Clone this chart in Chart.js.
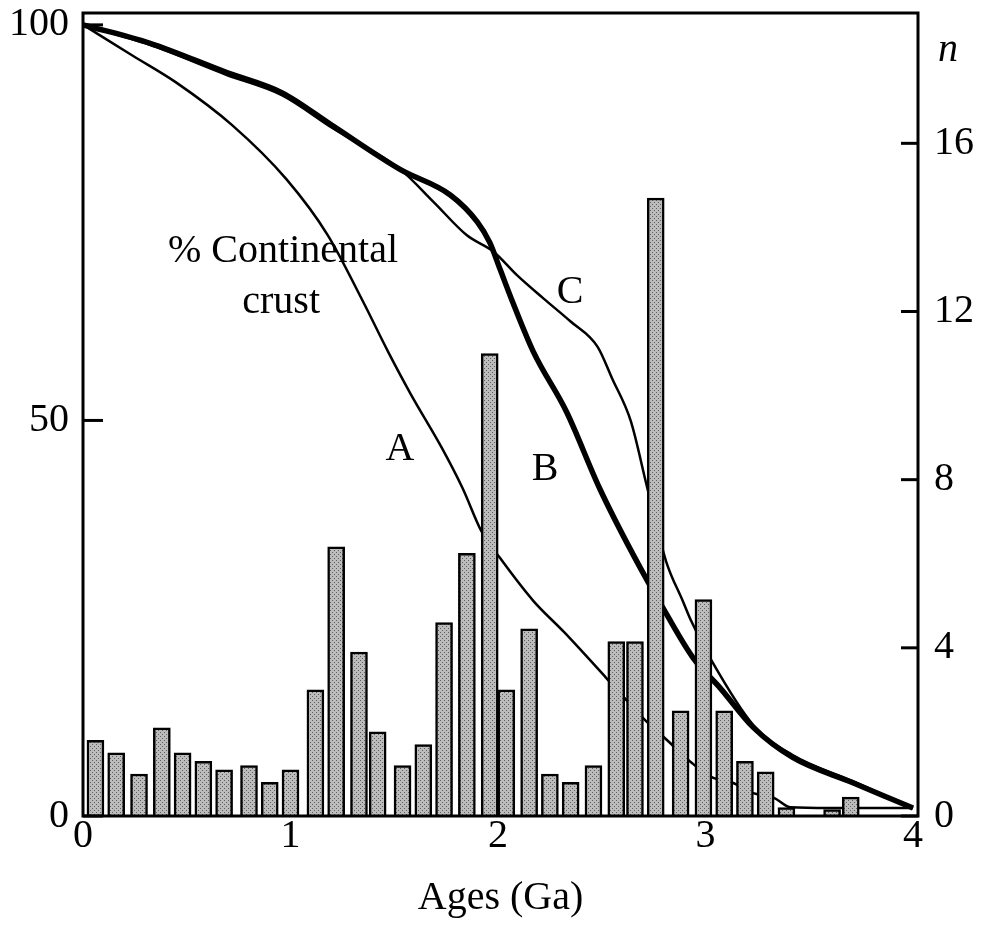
<!DOCTYPE html>
<html>
<head>
<meta charset="utf-8">
<script src="https://cdn.jsdelivr.net/npm/chart.js@4/dist/chart.umd.min.js"></script>
<style>
  html, body { margin: 0; padding: 0; background: #fff; }
  #wrap { width: 985px; height: 934px; position: relative; }
</style>
</head>
<body>
<div id="wrap"><canvas id="c"></canvas></div>
<script>
// --- DATA ---
// histogram of ages, right axis n
const barAges   = [0.06, 0.16, 0.27, 0.38, 0.48, 0.58, 0.68, 0.80, 0.90, 1.00,
                   1.12, 1.22, 1.33, 1.42, 1.54, 1.64, 1.74, 1.85, 1.96, 2.04,
                   2.15, 2.25, 2.35, 2.46, 2.57, 2.66, 2.76, 2.88, 2.99, 3.09,
                   3.19, 3.29, 3.39, 3.61, 3.70];
const barCounts = [1.8, 1.5, 1.0, 2.1, 1.5, 1.3, 1.1, 1.2, 0.8, 1.1,
                   3.0, 6.4, 3.9, 2.0, 1.2, 1.7, 4.6, 6.25, 11.0, 3.0,
                   4.45, 1.0, 0.8, 1.2, 4.15, 4.15, 14.7, 2.5, 5.15, 2.5,
                   1.3, 1.05, 0.2, 0.15, 0.45];

// % continental crust curves, left axis
const aAges = [0, 0.24, 0.45, 0.72, 0.98, 1.18, 1.35, 1.47, 1.58, 1.73, 1.83, 1.92, 2.01,
               2.17, 2.32, 2.52, 2.61, 2.71, 2.81, 2.93, 3.03, 3.13, 3.23, 3.33, 3.41, 3.6, 4.0];
const aPct  = [100, 96.1, 92.7, 87.3, 80.5, 73.4, 65.0, 58.7, 53.3, 46.5, 41.4, 36.0, 32.6,
               27.2, 23.2, 17.5, 14.9, 12.1, 9.7, 6.8, 4.9, 4.2, 2.9, 2.3, 1.1, 1.0, 1.0];

const bAges = [0, 0.32, 0.69, 0.96, 1.20, 1.53, 1.77, 1.90, 1.96, 2.01, 2.07, 2.17,
               2.33, 2.49, 2.65, 2.81, 2.94, 3.07, 3.23, 3.42, 3.71, 4.0];
const bPct  = [100, 97.7, 94.0, 91.4, 87.3, 81.7, 78.5, 75.1, 72.5, 69.1, 65.0, 58.7,
               51.1, 41.4, 33.1, 25.6, 20.0, 16.2, 11.2, 7.4, 4.2, 1.0];

const cAges = [0, 0.32, 0.69, 0.96, 1.20, 1.53, 1.69, 1.85, 1.98, 2.09, 2.22, 2.35,
               2.48, 2.55, 2.64, 2.72, 2.81, 2.89, 2.93, 3.03, 3.23, 3.42, 3.71, 4.0];
const cPct  = [100, 97.5, 93.7, 91.1, 87.0, 81.7, 77.6, 73.4, 71.3, 68.4, 65.4, 62.5,
               59.3, 55.3, 49.9, 41.4, 32.2, 27.2, 24.7, 19.6, 11.5, 7.7, 4.4, 1.0];

// tick labels
const xTicks   = [0, 1, 2, 3, 4];
const pctTicks = [0, 50, 100];
const nTicks   = [0, 4, 8, 12, 16];

// text written inside the plot (age in Ga, value in %)
const notes = [
  { text: '% Continental', x: 0.964, y: 71.4 },
  { text: 'crust',         x: 0.955, y: 64.9 },
  { text: 'A',             x: 1.528, y: 46.3 },
  { text: 'B',             x: 2.227, y: 43.8 },
  { text: 'C',             x: 2.347, y: 66.2 }
];

// --- style ---
const SERIF = '"Liberation Serif", "Times New Roman", serif';
const tickFont = { family: SERIF, size: 40, lineHeight: 1.0 };

// stippled grey fill for the bars
function makeStipple() {
  const c = document.createElement('canvas');
  c.width = 4; c.height = 4;
  const g = c.getContext('2d');
  g.fillStyle = '#bcbcbc';
  g.fillRect(0, 0, 4, 4);
  g.fillStyle = '#5e5e5e';
  g.fillRect(0, 0, 1, 1);
  g.fillRect(2, 2, 1, 1);
  return g.createPattern(c, 'repeat');
}
const stipple = makeStipple();

const pts = (xs, ys) => xs.map((x, i) => ({ x: x, y: ys[i] }));

// frame, inward ticks and the in-plot labels
const decor = {
  id: 'decor',
  afterDatasetsDraw(chart) {
    const { ctx, chartArea: a, scales } = chart;
    ctx.save();
    ctx.strokeStyle = '#000';
    ctx.lineWidth = 3;
    ctx.strokeRect(a.left, a.top, a.right - a.left, a.bottom - a.top);

    pctTicks.forEach(v => {
      const y = scales.y.getPixelForValue(v);
      ctx.beginPath(); ctx.moveTo(a.left, y); ctx.lineTo(a.left + 20, y); ctx.stroke();
    });
    nTicks.forEach(v => {
      const y = scales.y2.getPixelForValue(v);
      ctx.beginPath(); ctx.moveTo(a.right, y); ctx.lineTo(a.right - 17, y); ctx.stroke();
    });

    ctx.fillStyle = '#000';
    ctx.textAlign = 'center';
    ctx.textBaseline = 'middle';
    ctx.font = '40px ' + SERIF;
    notes.forEach(n => {
      ctx.fillText(n.text, scales.x.getPixelForValue(n.x), scales.y.getPixelForValue(n.y));
    });

    // axis name for the right scale
    ctx.font = 'italic 40px ' + SERIF;
    ctx.fillText('n', a.right + 30, scales.y2.getPixelForValue(18.2));
    ctx.restore();
  }
};

new Chart(document.getElementById('c'), {
  type: 'bar',
  data: {
    datasets: [
      {
        type: 'bar', label: 'n',
        data: pts(barAges, barCounts),
        yAxisID: 'y2',
        backgroundColor: stipple,
        borderColor: '#000',
        borderWidth: 2.5,
        barThickness: 17,
        order: 0
      },
      {
        type: 'line', label: 'A', data: pts(aAges, aPct), yAxisID: 'y',
        borderColor: '#000', borderWidth: 2.5, pointRadius: 0,
        cubicInterpolationMode: 'monotone', order: 1
      },
      {
        type: 'line', label: 'B', data: pts(bAges, bPct), yAxisID: 'y',
        borderColor: '#000', borderWidth: 5.5, pointRadius: 0,
        cubicInterpolationMode: 'monotone', order: 1
      },
      {
        type: 'line', label: 'C', data: pts(cAges, cPct), yAxisID: 'y',
        borderColor: '#000', borderWidth: 2.5, pointRadius: 0,
        cubicInterpolationMode: 'monotone', order: 1
      }
    ]
  },
  options: {
    responsive: true,
    maintainAspectRatio: false,
    animation: false,
    layout: { padding: { top: 13, left: 0, right: 0, bottom: 0 } },
    plugins: { legend: { display: false }, tooltip: { enabled: false } },
    scales: {
      x: {
        type: 'linear', min: 0, max: 4.024, offset: false,
        grid: { display: false, drawTicks: false },
        border: { display: false },
        ticks: { font: tickFont, color: '#000', padding: 0 },
        afterBuildTicks: s => { s.ticks = xTicks.map(v => ({ value: v })); },
        afterFit: s => { s.height = 118; s.paddingLeft = 0; s.paddingRight = 0; },
        title: {
          display: true, text: 'Ages (Ga)', color: '#000',
          font: { family: SERIF, size: 40, lineHeight: 1.2 },
          padding: { top: 0, bottom: 12 }
        }
      },
      y: {
        type: 'linear', position: 'left', min: 0, max: 101.5,
        grid: { display: false, drawTicks: false },
        border: { display: false },
        ticks: { font: tickFont, color: '#000', padding: 14 },
        afterBuildTicks: s => { s.ticks = pctTicks.map(v => ({ value: v })); },
        afterFit: s => { s.width = 83; s.paddingTop = 0; s.paddingBottom = 0; }
      },
      y2: {
        type: 'linear', position: 'right', min: 0, max: 19.1,
        grid: { display: false, drawTicks: false },
        border: { display: false },
        ticks: { font: tickFont, color: '#000', padding: 16 },
        afterBuildTicks: s => { s.ticks = nTicks.map(v => ({ value: v })); },
        afterFit: s => { s.width = 67; s.paddingTop = 0; s.paddingBottom = 0; }
      }
    }
  },
  plugins: [decor]
});
</script>
</body>
</html>
